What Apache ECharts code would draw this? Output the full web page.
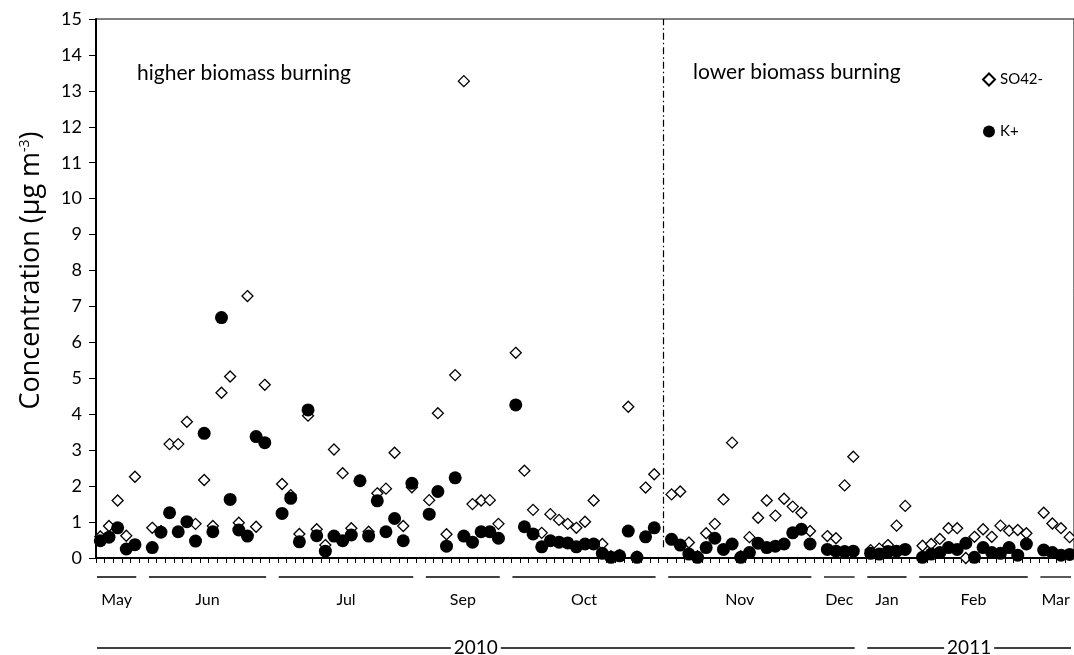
<!DOCTYPE html>
<html>
<head>
<meta charset="utf-8">
<script src="https://cdn.jsdelivr.net/npm/echarts@6/dist/echarts.min.js"></script>
<style>
  html, body { margin: 0; padding: 0; background: #fff; }
  #chart { width: 1074px; height: 655px; }
</style>
</head>
<body>
<div id="chart"></div>
<script>
// Daily aerosol concentrations (µg m-3); null marks a day with no sample
const so4 = [
  0.60, 0.89, 1.60, 0.62, 2.26, null,
  0.84, 0.75, 3.17, 3.17, 3.79, 0.95, 2.17, 0.89, 4.60, 5.05, 0.98, 7.29, 0.87, 4.82, null,
  2.06, 1.75, 0.67, 3.96, 0.80, 0.36, 3.02, 2.36, 0.83, 2.15, 0.73, 1.80, 1.93, 2.93, 0.89, 1.97, null,
  1.61, 4.03, 0.66, 5.09, 13.27, 1.50, 1.60, 1.61, 0.95, null,
  5.71, 2.43, 1.34, 0.70, 1.22, 1.06, 0.95, 0.84, 1.01, 1.60, 0.39, 0.05, 0.08, 4.21, 0.04, 1.96, 2.33, null,
  1.77, 1.85, 0.43, 0.05, 0.69, 0.95, 1.63, 3.21, 0.05, 0.58, 1.12, 1.60, 1.18, 1.65, 1.43, 1.26, 0.75, null,
  0.61, 0.55, 2.02, 2.82, null,
  0.22, 0.26, 0.36, 0.90, 1.45, null,
  0.34, 0.39, 0.53, 0.83, 0.83, 0.00, 0.59, 0.80, 0.59, 0.90, 0.76, 0.78, 0.69, null,
  1.26, 0.96, 0.83, 0.58
];
const kPlus = [
  0.48, 0.58, 0.84, 0.25, 0.37, null,
  0.29, 0.72, 1.26, 0.73, 1.01, 0.47, 3.47, 0.73, 6.69, 1.63, 0.78, 0.61, 3.38, 3.21, null,
  1.24, 1.66, 0.45, 4.12, 0.62, 0.19, 0.61, 0.48, 0.64, 2.15, 0.61, 1.59, 0.73, 1.10, 0.48, 2.08, null,
  1.22, 1.85, 0.33, 2.23, 0.61, 0.44, 0.73, 0.73, 0.55, null,
  4.26, 0.87, 0.67, 0.31, 0.48, 0.44, 0.42, 0.31, 0.39, 0.39, 0.13, 0.02, 0.06, 0.75, 0.02, 0.59, 0.84, null,
  0.52, 0.36, 0.11, 0.02, 0.29, 0.55, 0.24, 0.39, 0.02, 0.15, 0.41, 0.29, 0.33, 0.39, 0.70, 0.80, 0.39, null,
  0.24, 0.19, 0.18, 0.19, null,
  0.13, 0.11, 0.18, 0.19, 0.24, null,
  0.02, 0.11, 0.15, 0.29, 0.24, 0.41, 0.02, 0.29, 0.15, 0.13, 0.29, 0.08, 0.39, null,
  0.22, 0.15, 0.08, 0.10
];

// Sampling-day slots along the x axis (not labelled individually)
const categories = so4.map((_, i) => 'd' + (i + 1));

// Month groups: first and last slot index of each month
const monthNames = ['May', 'Jun', 'Jul', 'Sep', 'Oct', 'Nov', 'Dec', 'Jan', 'Feb', 'Mar'];
const monthFirst = [0, 6, 21, 38, 48, 66, 84, 89, 95, 109];
const monthLast  = [4, 19, 36, 46, 64, 82, 87, 93, 107, 112];

// Year groups
const yearNames = ['2010', '2011'];
const yearFirst = [0, 89];
const yearLast  = [87, 112];

// Boundary between the two burning regimes (slot index) and their captions
const regimeSplit = 65;
const regimeNames = ['higher biomass burning', 'lower biomass burning'];

// Concentration axis
const yMin = 0, yMax = 15, yStep = 1;

const seriesNames = ['SO42-', 'K+'];
const FONT = 'Lato, "Open Sans", sans-serif';
const TITLE_FONT = '"Open Sans", Lato, sans-serif';

const chart = echarts.init(document.getElementById('chart'), null, { renderer: 'canvas' });

const option = {
  animation: false,
  backgroundColor: '#fff',
  textStyle: { fontFamily: FONT, color: '#000' },
  grid: {
    left: 96, top: 19, bottom: 97, right: -8,
    show: true, borderColor: '#000', borderWidth: 1, backgroundColor: 'transparent'
  },
  legend: {
    orient: 'vertical',
    left: 977, top: 67,
    itemWidth: 12, itemHeight: 12, itemGap: 37,
    textStyle: { fontFamily: FONT, fontSize: 15, color: '#000' },
    data: seriesNames
  },
  xAxis: {
    type: 'category',
    data: categories,
    boundaryGap: true,
    axisLine: { lineStyle: { color: '#000', width: 2 } },
    axisTick: { show: true, interval: 0, length: 5, lineStyle: { color: '#000', width: 1 } },
    axisLabel: { show: false },
    splitLine: { show: false }
  },
  yAxis: {
    type: 'value',
    min: yMin, max: yMax, interval: yStep,
    axisLine: { show: true, lineStyle: { color: '#000', width: 2 } },
    axisTick: { show: true, length: 7, lineStyle: { color: '#000', width: 1 } },
    axisLabel: { fontFamily: FONT, fontSize: 18, color: '#000', margin: 14 },
    splitLine: { show: false },
    name: '{t|Concentration (µg m}{s|-3}{t|)}',
    nameLocation: 'middle',
    nameRotate: 90,
    nameGap: 51,
    nameTextStyle: {
      padding: [0, 0, 0, 36],
      rich: {
        t: { fontFamily: TITLE_FONT, fontSize: 27, color: '#000' },
        s: { fontFamily: TITLE_FONT, fontSize: 14, color: '#000', verticalAlign: 'top', padding: [0, 0, 13, 0] }
      }
    }
  },
  series: [
    {
      name: seriesNames[0],
      type: 'scatter',
      data: so4,
      symbol: 'diamond',
      symbolSize: 11,
      itemStyle: { color: '#fff', borderColor: '#000', borderWidth: 1.3, opacity: 1 },
      emphasis: { disabled: true },
      markLine: {
        silent: true,
        symbol: 'none',
        label: { show: false },
        lineStyle: { color: '#000', width: 1.2, type: [7, 3, 1.5, 3] },
        data: [[{ coord: [regimeSplit, 0.3] }, { coord: [regimeSplit, yMax] }]]
      }
    },
    {
      name: seriesNames[1],
      type: 'scatter',
      data: kPlus,
      symbol: 'circle',
      symbolSize: 13,
      itemStyle: { color: '#000', borderColor: '#000', borderWidth: 0, opacity: 1 },
      emphasis: { disabled: true }
    }
  ]
};

chart.setOption(option);

// Month and year brackets below the axis, placed through the category scale
const px = i => chart.convertToPixel({ xAxisIndex: 0 }, i);
const step = px(1) - px(0);
const leftEdge = i => px(i) - step / 2;
const rightEdge = i => px(i) + step / 2;

const MONTH_LINE_Y = 577;
const MONTH_TEXT_Y = 600;
const YEAR_Y = 648;

const graphics = [];

monthNames.forEach((name, k) => {
  const x0 = leftEdge(monthFirst[k]) + 1;
  const x1 = rightEdge(monthLast[k]) - 3;
  graphics.push({
    type: 'line', silent: true,
    shape: { x1: x0, y1: MONTH_LINE_Y, x2: x1, y2: MONTH_LINE_Y },
    style: { stroke: '#000', lineWidth: 1.3 }
  });
  graphics.push({
    type: 'text', silent: true,
    x: (x0 + x1) / 2, y: MONTH_TEXT_Y,
    style: { text: name, font: '16px ' + FONT, fill: '#000', align: 'center', verticalAlign: 'middle' }
  });
});

yearNames.forEach((name, k) => {
  const x0 = leftEdge(yearFirst[k]) + 1;
  const x1 = rightEdge(yearLast[k]) - 3;
  graphics.push({
    type: 'line', silent: true,
    shape: { x1: x0, y1: YEAR_Y, x2: x1, y2: YEAR_Y },
    style: { stroke: '#000', lineWidth: 1.3 }
  });
  graphics.push({
    type: 'text', silent: true, z: 10,
    x: (x0 + x1) / 2, y: YEAR_Y,
    style: {
      text: name, font: '19px ' + FONT, fill: '#000', align: 'center', verticalAlign: 'middle',
      backgroundColor: '#fff', padding: [0, 3]
    }
  });
});

// Regime captions
graphics.push({
  type: 'text', silent: true, x: 137, y: 73,
  style: { text: regimeNames[0], font: '21px ' + FONT, fill: '#000', verticalAlign: 'middle' }
});
graphics.push({
  type: 'text', silent: true, x: 693, y: 72,
  style: { text: regimeNames[1], font: '21px ' + FONT, fill: '#000', verticalAlign: 'middle' }
});

chart.setOption({ graphic: { elements: graphics } });
</script>
</body>
</html>
